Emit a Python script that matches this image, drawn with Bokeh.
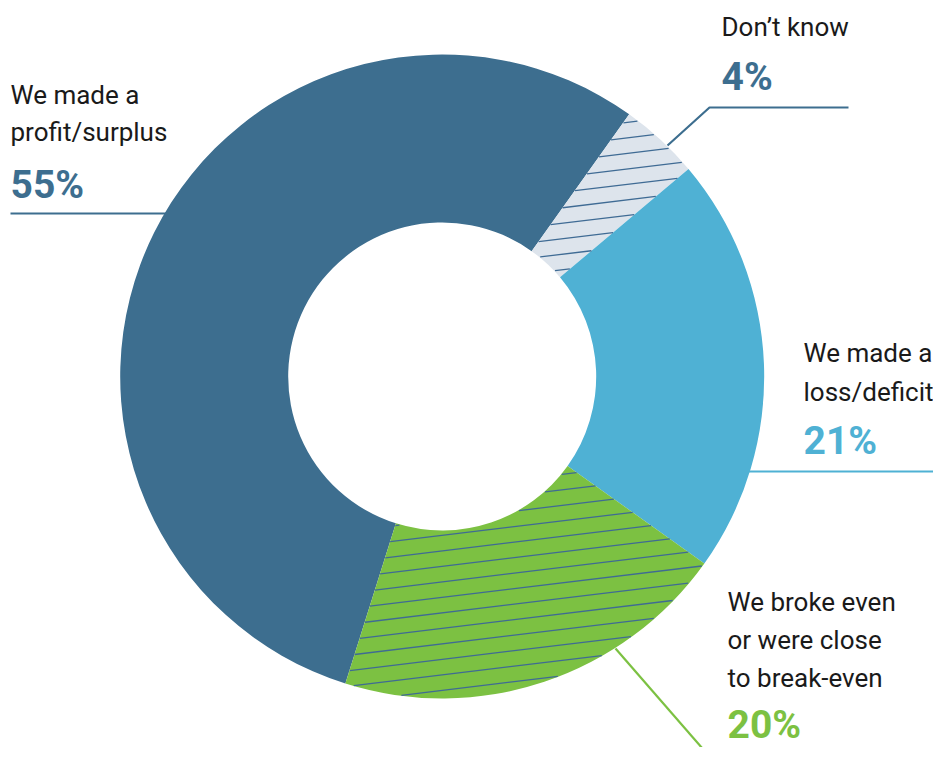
import numpy as np
from bokeh.plotting import figure
from bokeh.models import Range1d
from bokeh.core.properties import value
from bokeh.embed import file_html
from bokeh.resources import INLINE

# ---------------- data ----------------
categories = ["We made a profit/surplus", "Don't know", "We made a loss/deficit",
              "We broke even or were close to break-even"]
shares = [55, 4, 21, 20]
pct_labels = ["55%", "4%", "21%", "20%"]
label_lines = [["We made a", "profit/surplus"], ["Don\u2019t know"],
               ["We made a", "loss/deficit"],
               ["We broke even", "or were close", "to break-even"]]

# ---------------- style ----------------
fill_colors = ["#3d6e8f", "#dde4ec", "#4fb1d4", "#7cc142"]
pct_colors = ["#3d6e8f", "#3d6e8f", "#4fb1d4", "#7cc142"]
hatched = [False, True, False, True]
hatch_phase = [0, 14.7, 0, 11.6]
FONT = "Roboto"
TEXT_COLOR = "#1a1a1a"

PW, PH = 933, 747          # figure size (fits the 949x763 window with 8px margin)
H = 763                    # reference picture height, used to flip pixel rows
def Y(py):
    return H - py

CX, CY = 441.7, Y(376)
RO, RI = 322, 154
START = 197.5  # degrees clockwise from top where first slice starts

p = figure(width=PW, height=PH, x_range=Range1d(0, PW), y_range=Range1d(H - PH, H),
           output_backend="svg", toolbar_location=None, min_border=0,
           x_axis_location=None, y_axis_location=None)
p.grid.visible = False
p.outline_line_color = None
p.background_fill_color = "white"
p.border_fill_color = "white"

# leader lines (drawn first, under the ring)
p.line([10, 175], [Y(213), Y(213)], line_color=pct_colors[0], line_width=2.2)
p.line([667, 709, 848], [Y(145), Y(107), Y(107)], line_color=pct_colors[1], line_width=2.2)
p.line([740, 943], [Y(471), Y(471)], line_color=pct_colors[2], line_width=2.2)
p.line([615, 722], [Y(648), Y(771)], line_color=pct_colors[3], line_width=2.2)

# ring
cum = np.concatenate([[0], np.cumsum(shares)]) / 100.0
a0s = START + 360 * cum[:-1]
a1s = START + 360 * cum[1:]
start_math = np.radians(90 - a0s)
end_math = np.radians(90 - a1s)
p.annular_wedge(x=CX, y=CY, inner_radius=RI, outer_radius=RO,
                start_angle=list(start_math), end_angle=list(end_math),
                direction="clock", fill_color=fill_colors, line_color=None)

# hatching
def hatch_segments(a0, a1, spacing=15.5, ang_deg=6.9, phase=0.0):
    t = np.tan(np.radians(ang_deg))
    xs = np.arange(CX - RO - 4, CX + RO + 4, 0.4)
    segx, segy = [], []
    span = (a1 - a0) % 360
    for c in np.arange(-40, 41) * spacing + phase:
        ys = CY + c + t * (xs - CX)
        dx, dy = xs - CX, ys - CY
        r = np.hypot(dx, dy)
        cw = (90 - np.degrees(np.arctan2(dy, dx))) % 360
        inside = (r >= RI + 0.5) & (r <= RO - 0.5) & (((cw - a0) % 360) <= span)
        if not inside.any():
            continue
        idx = np.where(inside)[0]
        breaks = np.where(np.diff(idx) > 1)[0]
        starts = np.concatenate([[0], breaks + 1])
        ends = np.concatenate([breaks, [len(idx) - 1]])
        for s, e in zip(starts, ends):
            i0, i1 = idx[s], idx[e]
            if i1 > i0:
                segx.append([xs[i0], xs[i1]])
                segy.append([ys[i0], ys[i1]])
    return segx, segy

for i in range(len(shares)):
    if hatched[i]:
        sx, sy = hatch_segments(a0s[i] % 360, a1s[i] % 360, phase=hatch_phase[i])
        p.multi_line(sx, sy, line_color="#3f6b94", line_width=1.3)

# labels (baselines in reference pixels; renderer places text a little lower,
# so a small upward correction is applied)
LBL_SHIFT, PCT_SHIFT = 11, 13
label_pos = [  # x, first baseline (px), line gap, pct baseline (px)
    (10, 105, 37, 197),
    (721, 37, 39, 89),
    (803, 363, 39, 453),
    (727, 612, 38, 737),
]
for i, (lx, b0, gap, pb) in enumerate(label_pos):
    lines = label_lines[i]
    p.text(x=[lx] * len(lines),
           y=[Y(b0 + k * gap - LBL_SHIFT) for k in range(len(lines))], text=lines,
           text_font=value(FONT), text_font_size="26px", text_color=TEXT_COLOR,
           text_baseline="alphabetic", text_align="left")
    p.text(x=[lx], y=[Y(pb - PCT_SHIFT)], text=[pct_labels[i]],
           text_font=value(FONT), text_font_size="39px", text_font_style="bold",
           text_color=pct_colors[i], text_baseline="alphabetic", text_align="left")

open("out.html", "w").write(file_html(p, INLINE))
